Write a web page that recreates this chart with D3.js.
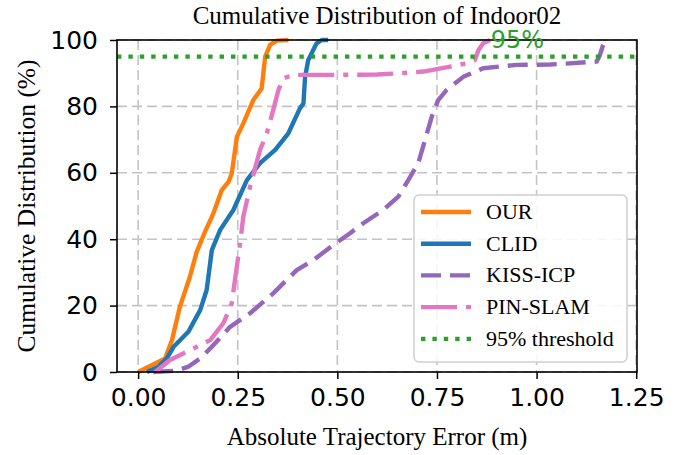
<!DOCTYPE html>
<html>
<head>
<meta charset="utf-8">
<script src="https://cdn.jsdelivr.net/npm/d3@7"></script>
<style>
  body { margin: 0; background: #fff; }
</style>
</head>
<body>
<svg id="chart" width="684" height="455"></svg>
<script>
// values
var ourX = [0, 0.043, 0.068, 0.085, 0.105, 0.13, 0.147, 0.168, 0.189, 0.21, 0.227, 0.235, 0.248, 0.264, 0.289, 0.31, 0.319, 0.331, 0.348, 0.377];
var ourY = [0, 2.6, 4.1, 9.6, 19.7, 28.7, 36.2, 42.3, 47.8, 54.8, 57.3, 59.8, 70.9, 74.9, 81.9, 85.4, 95, 98.5, 99.8, 100];

var clidX = [0.022, 0.051, 0.072, 0.089, 0.126, 0.156, 0.172, 0.185, 0.206, 0.239, 0.273, 0.306, 0.344, 0.377, 0.406, 0.415, 0.419, 0.427, 0.448, 0.461, 0.477];
var clidY = [0, 1.6, 4.1, 7.6, 12.1, 18.7, 24.7, 36.7, 42.8, 48.8, 57.8, 62.9, 66.9, 71.9, 79.4, 80.9, 88.9, 94, 99, 100, 100];

var kissX = [0.038, 0.097, 0.126, 0.156, 0.189, 0.231, 0.281, 0.339, 0.398, 0.44, 0.49, 0.532, 0.565, 0.615, 0.653, 0.678, 0.703, 0.72, 0.737, 0.753, 0.774, 0.816, 0.866, 0.95, 1.034, 1.151, 1.159, 1.167, 1.174];
var kissY = [0, 0.4, 1.6, 4.1, 8.1, 13.6, 17.7, 23.7, 30.7, 33.7, 38.3, 41.8, 44.8, 48.8, 52.8, 57.8, 62.9, 69.9, 76.9, 81.9, 84.9, 88.9, 91.5, 92.5, 92.6, 93.5, 95.5, 98.5, 100];

var pinX = [0.043, 0.08, 0.139, 0.181, 0.214, 0.235, 0.243, 0.256, 0.264, 0.281, 0.306, 0.323, 0.339, 0.352, 0.365, 0.39, 0.5, 0.6, 0.66, 0.716, 0.783, 0.825, 0.845, 0.854, 0.866, 0.883];
var pinY = [0, 3.6, 7.1, 9.6, 14.7, 20.7, 27.7, 38.8, 46.8, 55.8, 66.9, 71.9, 78.9, 84.9, 88.5, 89.5, 89.5, 89.6, 90, 90.5, 92, 93, 93.9, 96.9, 99, 100];

var threshold = 95;
var thresholdLabel = "95%";
var labelAt = [0.885, 97.6];

var xTicks = [0, 0.25, 0.5, 0.75, 1.0, 1.25];
var yTicks = [0, 20, 40, 60, 80, 100];

var seriesNames = ["OUR", "CLID", "KISS-ICP", "PIN-SLAM", "95% threshold"];

var W = 684, H = 455;
var m = {top: 40, right: 47, bottom: 83, left: 117};
var iw = W - m.left - m.right, ih = H - m.top - m.bottom;

var serif = "'Liberation Serif', 'Times New Roman', serif";
var sans = "'DejaVu Sans', sans-serif";

var svg = d3.select("#chart");
var g = svg.append("g").attr("transform", "translate(" + m.left + "," + m.top + ")");

var x = d3.scaleLinear().domain([-0.053, 1.252]).range([0, iw]);
var y = d3.scaleLinear().domain([0, 100]).range([ih, 0]);

// grid
g.append("g").selectAll("line").data(xTicks).enter().append("line")
  .attr("x1", function(d){ return x(d); }).attr("x2", function(d){ return x(d); })
  .attr("y1", 0).attr("y2", ih)
  .attr("stroke", "#c4c4c4").attr("stroke-width", 1.6).attr("stroke-dasharray", "10,5");
g.append("g").selectAll("line").data(yTicks).enter().append("line")
  .attr("y1", function(d){ return y(d); }).attr("y2", function(d){ return y(d); })
  .attr("x1", 0).attr("x2", iw)
  .attr("stroke", "#c4c4c4").attr("stroke-width", 1.6).attr("stroke-dasharray", "10,5");

var line = d3.line().x(function(d){ return x(d[0]); }).y(function(d){ return y(d[1]); });
function pts(xs, ys) { return xs.map(function(v, i){ return [v, ys[i]]; }); }

var series = [
  {name: seriesNames[0], data: pts(ourX, ourY), color: "#ff7f0e", dash: null},
  {name: seriesNames[1], data: pts(clidX, clidY), color: "#1f77b4", dash: null},
  {name: seriesNames[2], data: pts(kissX, kissY), color: "#9467bd", dash: "20,9"},
  {name: seriesNames[3], data: pts(pinX, pinY), color: "#e377c2", dash: "36,9,5,9"}
];

series.forEach(function(s){
  g.append("path").datum(s.data)
    .attr("d", line)
    .attr("fill", "none")
    .attr("stroke", s.color)
    .attr("stroke-width", 4.4)
    .attr("stroke-linejoin", "round")
    .attr("stroke-dasharray", s.dash);
});

// threshold
g.append("line")
  .attr("x1", 0).attr("x2", iw)
  .attr("y1", y(threshold)).attr("y2", y(threshold))
  .attr("stroke", "#2ca02c").attr("stroke-width", 4.2)
  .attr("stroke-dasharray", "4.4,7");

// axes
var xAxis = g.append("g").attr("transform", "translate(0," + ih + ")")
  .call(d3.axisBottom(x).tickValues(xTicks).tickSize(7).tickPadding(9).tickFormat(d3.format(".2f")));
var yAxis = g.append("g")
  .call(d3.axisLeft(y).tickValues(yTicks).tickSize(7).tickPadding(12));
[xAxis, yAxis].forEach(function(a){
  a.select(".domain").remove();
  a.selectAll(".tick line").attr("stroke", "#000").attr("stroke-width", 1.5);
  a.selectAll(".tick text").attr("font-family", sans).attr("font-size", 25).attr("fill", "#000");
});

// frame
g.append("rect").attr("width", iw).attr("height", ih)
  .attr("fill", "none").attr("stroke", "#000").attr("stroke-width", 1.6);

// 95% annotation
g.append("text")
  .attr("x", x(labelAt[0])).attr("y", y(labelAt[1]))
  .attr("font-family", sans).attr("font-size", 24).attr("fill", "#2ca02c")
  .text(thresholdLabel);

// titles
svg.append("text")
  .attr("x", m.left + iw / 2).attr("y", 24)
  .attr("font-family", serif).attr("font-size", 25).attr("text-anchor", "middle")
  .text("Cumulative Distribution of Indoor02");
svg.append("text")
  .attr("x", m.left + iw / 2).attr("y", 445)
  .attr("font-family", serif).attr("font-size", 25).attr("text-anchor", "middle")
  .text("Absolute Trajectory Error (m)");
svg.append("text")
  .attr("transform", "translate(35," + (m.top + ih / 2) + ") rotate(-90)")
  .attr("font-family", serif).attr("font-size", 25.5).attr("text-anchor", "middle")
  .text("Cumulative Distribution (%)");

// legend
var lg = svg.append("g").attr("transform", "translate(414,195)");
lg.append("rect").attr("width", 213).attr("height", 167).attr("rx", 5)
  .attr("fill", "#fff").attr("fill-opacity", 0.85)
  .attr("stroke", "#d0d0d0").attr("stroke-width", 1.5);
var legendItems = series.map(function(s){ return {name: s.name, color: s.color, dash: s.dash, w: 4.4}; });
legendItems.push({name: seriesNames[4], color: "#2ca02c", dash: "4.4,7", w: 4.2});
legendItems.forEach(function(d, i){
  var yy = 17 + i * 31.7;
  lg.append("line").attr("x1", 7).attr("x2", 57).attr("y1", yy).attr("y2", yy)
    .attr("stroke", d.color).attr("stroke-width", d.w).attr("stroke-dasharray", d.dash);
  lg.append("text").attr("x", 72).attr("y", yy + 7)
    .attr("font-family", serif).attr("font-size", 22)
    .text(d.name);
});
</script>
</body>
</html>
